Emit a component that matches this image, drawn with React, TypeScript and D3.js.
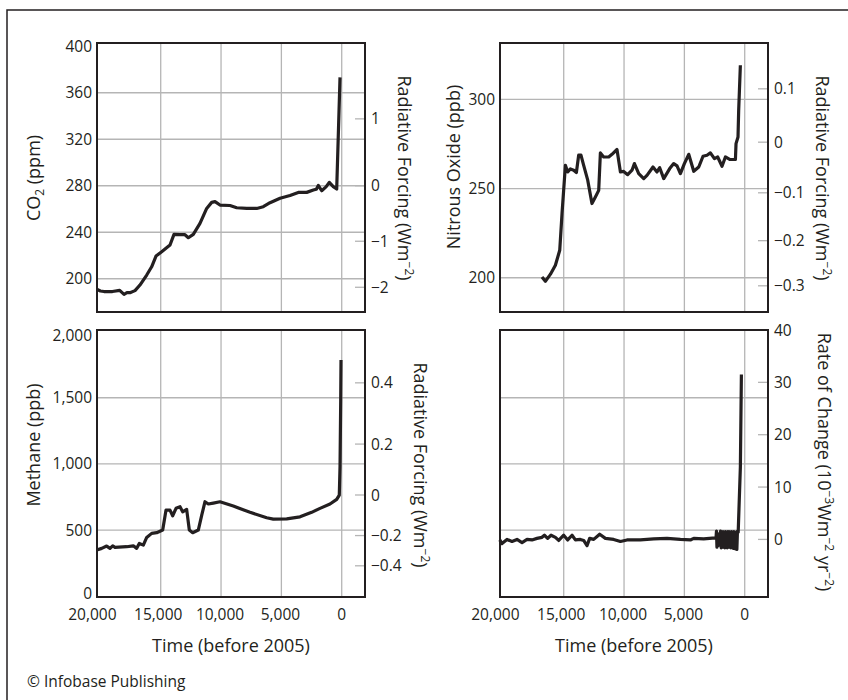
import React from "react";
import * as d3 from "d3";

// ---------- data (years before 2005, values) ----------
const xTickValues = [20000, 15000, 10000, 5000, 0];
const xGridValues = [15000, 10000, 5000, 0];

const co2Years = [20300, 20000, 19700, 19000, 18400, 18040, 17800, 17550, 17130, 16720, 16160, 15750, 15390, 14920, 14230, 13900, 13400, 12990, 12710, 12300, 11745, 11190, 10775, 10500, 10090, 9260, 8700, 7870, 7045, 6500, 5940, 5110, 4285, 3600, 2900, 2350, 2100, 1940, 1660, 1300, 1030, 700, 415, 140];
const co2Values = [190.9, 189.5, 189, 189, 190, 186.6, 188, 188, 189.8, 194.6, 203.2, 210.3, 219.5, 223.2, 229, 238.2, 237.9, 237.9, 235.3, 238.2, 247.6, 260.5, 265.7, 266.3, 263.4, 263, 261.1, 260.5, 260.5, 262, 265.4, 269.2, 271.6, 274.3, 274.3, 276.3, 277, 280.3, 275.7, 279, 282.9, 279.2, 277.2, 373.2];

const n2oYears = [16800, 16520, 16100, 15690, 15330, 15140, 14860, 14670, 14445, 14170, 13950, 13760, 13570, 13345, 13010, 12660, 12375, 12100, 11960, 11690, 11270, 11000, 10585, 10300, 10030, 9700, 9340, 9140, 8785, 8370, 8100, 7600, 7270, 7045, 6710, 6215, 5885, 5610, 5330, 5000, 4640, 4225, 3810, 3455, 3125, 2845, 2510, 2240, 1880, 1600, 1245, 770, 720, 555, 500, 360];
const n2oValues = [200.4, 198, 202, 207, 215.4, 236, 263, 259.3, 261, 260.3, 259, 268.7, 268.7, 263, 254.7, 241.6, 245.3, 249, 270, 267.7, 267.7, 269.2, 271.9, 259.3, 259.6, 257.8, 260.3, 264, 258.4, 255.6, 257.4, 262.1, 259.3, 261.7, 255.6, 261.2, 264, 262.7, 258.4, 264, 269.2, 259.7, 262.1, 268.1, 268.7, 270, 266.8, 267.7, 262.5, 267.7, 266.3, 266.3, 275.2, 278.9, 293.9, 319.1];

const ch4Years = [20300, 19890, 19480, 19200, 18980, 18790, 17820, 17270, 16990, 16775, 16440, 16160, 15750, 15330, 14835, 14560, 14230, 14010, 13730, 13400, 13180, 12850, 12630, 12350, 11885, 11600, 11330, 11055, 10640, 10090, 8985, 7600, 6215, 5670, 4560, 3455, 2490, 1800, 970, 415, 200, 140, 83, 58];
const ch4Values = [349, 361.6, 379, 361.6, 381, 369, 374, 381, 361.6, 399, 386, 444, 475, 480, 500, 651, 651, 608, 664, 676, 638, 656, 500, 480, 500, 613, 714, 697, 704, 714, 681, 634, 593, 583, 585, 600, 634, 664, 697, 732, 764, 978, 1483, 1785];

const rateYears = [20300, 20115, 19700, 19285, 18870, 18455, 18040, 17630, 17215, 16800, 16600, 16330, 16050, 15690, 15415, 15000, 14670, 14310, 14030, 13620, 13345, 13070, 12850, 12515, 12020, 11545, 10860, 10300, 9755, 8645, 7540, 6440, 5330, 4500, 4225, 3400, 2430, 2380, 2340, 2300, 2250, 2200, 2150, 2080, 2000, 1950, 1900, 1850, 1800, 1750, 1700, 1650, 1600, 1550, 1500, 1450, 1400, 1350, 1300, 1250, 1200, 1150, 1100, 1050, 1000, 950, 900, 850, 800, 750, 700, 650, 600, 540, 360, 275];
const rateValues = [-0.1, -0.8, 0, -0.4, 0, -0.6, 0, -0.1, 0.2, 0.4, 0.8, 0.2, 0.8, 0.4, -0.2, 0.8, -0.1, 0.8, -0.1, 0, -0.2, -1.2, 0.2, 0, 1.0, 0.2, 0, -0.4, -0.1, -0.1, 0.1, 0.2, 0, -0.1, 0.2, 0.1, 0.3, 0.2, 1.6, -1.5, 1.1, -1.2, 0.4, -0.3, 1.6, -1.6, 1.4, -1.5, 1.5, -1.5, 1.3, -1.6, 1.5, -1.4, 1.4, -1.6, 1.5, -1.5, 1.5, -1.5, 1.4, -1.6, 1.5, -1.4, 1.3, -1.7, 1.5, -1.5, 1.4, -1.8, 1.1, -1.9, 1.6, 1.4, 13.8, 31.5];

// left-axis ticks and grid
const co2Ticks = [400, 360, 320, 280, 240, 200];
const co2Grid = [360, 320, 280, 240, 200];
const n2oTicks = [300, 250, 200];
const n2oGrid = [300, 250, 200];
const ch4Ticks = [2000, 1500, 1000, 500, 0];
const ch4Grid = [1500, 1000, 500];
const rateTicks = [40, 30, 20, 10, 0];

// right-axis (radiative forcing) ticks
const co2ForcingTicks = [1, 0, -1, -2];
const n2oForcingTicks = [0.1, 0, -0.1, -0.2, -0.3];
const ch4ForcingTicks = [0.4, 0.2, 0, -0.2, -0.4];

// forcing -> concentration conversions
const co2FromForcing = (f: number) => 280 * Math.exp(f / 5.35);
const n2oFromForcing = (f: number) => Math.pow(Math.sqrt(276) + f / 0.114, 2);
const ch4FromForcing = (f: number) => Math.pow(Math.sqrt(765) + f / 0.032, 2);

const INK = "#231f20";
const GRID = "#b5b5b5";
const FONT = "'Open Sans', 'Noto Sans', sans-serif";
const TICK_FS = 15.5;
const LABEL_FS = 18;
const SUP_FS = 12;
const SUP_DY = 7;

const fmtNum = (v: number) => (v < 0 ? "\u2212" + d3.format(",")(-v) : d3.format(",")(v));
const fmtForce = (v: number) => (v < 0 ? "\u2212" + String(-v) : String(v));
const xLabelShift = (v: number) => (v === 20000 ? -8 : v === 15000 ? -2.5 : v === 0 ? 0 : -1);

type PanelProps = {
  left: number;
  top: number;
  width: number;
  height: number;
  yDomain: [number, number];
  years: number[];
  values: number[];
  leftTicks?: number[];
  gridValues: number[];
  gridScale?: d3.ScaleLinear<number, number>;
  rightTicks: number[];
  rightToValue: (f: number) => number;
  rightFmt: (v: number) => string;
  showX: boolean;
};

function Panel(p: PanelProps) {
  const x = d3.scaleLinear().domain([20280, -1930]).range([p.left, p.left + p.width]);
  const y = d3.scaleLinear().domain(p.yDomain).range([p.top + p.height, p.top]);
  const gs = p.gridScale ? p.gridScale.copy().range([p.top + p.height, p.top]) : y;
  const pts: [number, number][] = p.years.map((yr, i) => [yr, p.values[i]]);
  const line = d3
    .line<[number, number]>()
    .x((d) => x(d[0]))
    .y((d) => y(d[1]));
  const right = p.left + p.width;
  const bottom = p.top + p.height;
  // labels that sit right on the frame are nudged inward, as in the original
  const labelY = (t: number) => {
    const yy = y(t);
    if (bottom - yy < 2.5) return yy - 3;
    if (yy - p.top < 2.5) return yy + 4;
    return yy;
  };
  return (
    <g>
      {xGridValues.map((v) => (
        <line key={"vg" + v} x1={x(v)} x2={x(v)} y1={p.top} y2={bottom} stroke={GRID} strokeWidth={1.3} />
      ))}
      {p.gridValues.map((v) => (
        <line key={"hg" + v} x1={p.left} x2={right} y1={gs(v)} y2={gs(v)} stroke={GRID} strokeWidth={1.3} />
      ))}
      {p.rightTicks.map((t) => {
        const yy = y(p.rightToValue(t));
        return (
          <g key={"rt" + t}>
            <line x1={right - 10} x2={right} y1={yy} y2={yy} stroke={GRID} strokeWidth={1.3} />
            <text x={right + 6} y={yy} dy="0.36em" fontSize={TICK_FS} fill={INK} fontFamily={FONT}>
              {p.rightFmt(t)}
            </text>
          </g>
        );
      })}
      {(p.leftTicks || []).map((t) => (
        <text key={"lt" + t} x={p.left - 5} y={labelY(t)} dy="0.36em" textAnchor="end" fontSize={TICK_FS} fill={INK} fontFamily={FONT}>
          {fmtNum(t)}
        </text>
      ))}
      <path d={line(pts) || ""} fill="none" stroke={INK} strokeWidth={3.2} strokeLinejoin="round" strokeLinecap="butt" />
      <rect x={p.left} y={p.top} width={p.width} height={p.height} fill="none" stroke={INK} strokeWidth={2} />
      {p.showX &&
        xTickValues.map((v) => (
          <text key={"xt" + v} x={x(v) + xLabelShift(v)} y={bottom + 23} textAnchor="middle" fontSize={TICK_FS} fill={INK} fontFamily={FONT}>
            {fmtNum(v)}
          </text>
        ))}
      {p.showX && (
        <text x={(p.left + right) / 2} y={bottom + 55} textAnchor="middle" fontSize={LABEL_FS} fill={INK} fontFamily={FONT}>
          Time (before 2005)
        </text>
      )}
    </g>
  );
}

function RightLabel({ x, y, children }: { x: number; y: number; children: React.ReactNode }) {
  return (
    <text transform={`translate(${x},${y}) rotate(90)`} textAnchor="middle" fontSize={LABEL_FS} fill={INK} fontFamily={FONT}>
      {children}
    </text>
  );
}

function LeftLabel({ x, y, children }: { x: number; y: number; children: React.ReactNode }) {
  return (
    <text transform={`translate(${x},${y}) rotate(-90)`} textAnchor="middle" fontSize={LABEL_FS} fill={INK} fontFamily={FONT}>
      {children}
    </text>
  );
}

function ForcingLabel({ x, y }: { x: number; y: number }) {
  return (
    <RightLabel x={x} y={y}>
      Radiative Forcing (Wm
      <tspan dy={-SUP_DY} fontSize={SUP_FS}>{"\u22122"}</tspan>
      <tspan dy={SUP_DY}>)</tspan>
    </RightLabel>
  );
}

export default function App() {
  const W = 268;
  const ch4Scale = d3.scaleLinear().domain([-6, 2012]);
  return (
    <svg width={848} height={700} style={{ position: "absolute", left: 0, top: 0, background: "#fff" }}>
      <rect x={0} y={0} width={848} height={700} fill="#fff" />
      <path d="M7,702 L7,10 L850,10" fill="none" stroke={INK} strokeWidth={1.5} />

      <Panel left={97} top={43} width={W} height={269} yDomain={[171.4, 402.8]} years={co2Years} values={co2Values}
        leftTicks={co2Ticks} gridValues={co2Grid} rightTicks={co2ForcingTicks} rightToValue={co2FromForcing} rightFmt={fmtForce} showX={false} />
      <Panel left={500} top={43} width={W} height={269} yDomain={[180.8, 331.6]} years={n2oYears} values={n2oValues}
        leftTicks={n2oTicks} gridValues={n2oGrid} rightTicks={n2oForcingTicks} rightToValue={n2oFromForcing} rightFmt={fmtForce} showX={false} />
      <Panel left={97} top={330} width={W} height={267} yDomain={[-6, 2012]} years={ch4Years} values={ch4Values}
        leftTicks={ch4Ticks} gridValues={ch4Grid} rightTicks={ch4ForcingTicks} rightToValue={ch4FromForcing} rightFmt={fmtForce} showX={true} />
      <Panel left={500} top={330} width={W} height={267} yDomain={[-11, 40]} years={rateYears} values={rateValues}
        gridValues={ch4Grid} gridScale={ch4Scale} rightTicks={rateTicks} rightToValue={(f) => f} rightFmt={fmtForce} showX={true} />

      <LeftLabel x={40} y={178}>
        CO<tspan dy={4} fontSize={SUP_FS}>2</tspan><tspan dy={-4}> (ppm)</tspan>
      </LeftLabel>
      <LeftLabel x={460} y={167}>Nitrous Oxide (ppb)</LeftLabel>
      <LeftLabel x={40} y={445}>Methane (ppb)</LeftLabel>

      <ForcingLabel x={398} y={178} />
      <ForcingLabel x={816} y={178} />
      <ForcingLabel x={414} y={465} />
      <RightLabel x={818} y={462}>
        Rate of Change (10
        <tspan dy={-SUP_DY} fontSize={SUP_FS}>{"\u22123"}</tspan>
        <tspan dy={SUP_DY}>Wm</tspan>
        <tspan dy={-SUP_DY} fontSize={SUP_FS}>{"\u22122"}</tspan>
        <tspan dy={SUP_DY}> yr</tspan>
        <tspan dy={-SUP_DY} fontSize={SUP_FS}>{"\u22122"}</tspan>
        <tspan dy={SUP_DY}>)</tspan>
      </RightLabel>

      <text x={27} y={687} fontSize={15.5} fill={INK} fontFamily={FONT}>
        © Infobase Publishing
      </text>
    </svg>
  );
}
